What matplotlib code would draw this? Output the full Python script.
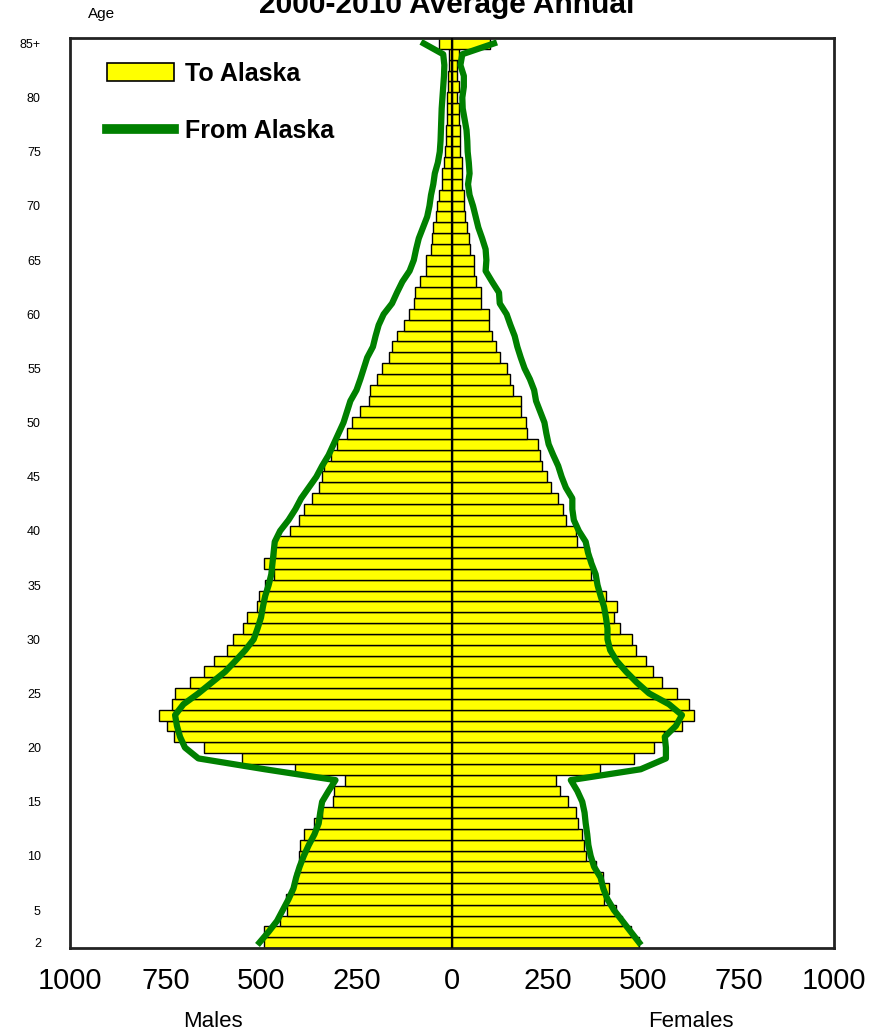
import numpy as np
import matplotlib.pyplot as plt
from matplotlib.patches import Patch
from matplotlib.lines import Line2D

# single years of age, 2 .. 85+
ages = np.arange(2, 86)

# To Alaska (bars), ages 2..85+
to_male = [493, 491, 450, 432, 434, 415, 410, 401, 401, 397,
           388, 362, 340, 311, 310, 279, 410, 550, 650, 729,
           747, 766, 733, 725, 687, 650, 623, 588, 572, 546,
           537, 511, 504, 489, 467, 493, 463, 463, 423, 401,
           388, 367, 349, 340, 336, 318, 301, 275, 262, 240,
           218, 214, 196, 183, 166, 157, 144, 126, 113, 100,
           96, 83, 69, 69, 56, 52, 49, 43, 39, 35,
           26, 26, 21, 19, 17, 15, 14, 12, 12, 10,
           10, 8, 8, 35]
to_female = [490, 468, 446, 429, 398, 411, 394, 376, 350, 346,
             341, 331, 325, 303, 284, 273, 387, 477, 529, 555,
             603, 634, 621, 588, 551, 525, 507, 481, 472, 440,
             424, 433, 402, 380, 363, 367, 359, 328, 324, 298,
             291, 277, 260, 249, 236, 230, 225, 197, 195, 181,
             181, 160, 153, 145, 125, 114, 106, 97, 97, 75,
             75, 62, 57, 57, 48, 44, 40, 35, 31, 31,
             27, 27, 27, 22, 22, 22, 18, 18, 14, 18,
             14, 14, 18, 100]

# From Alaska (line), ages 2..85+
from_male = [504, 480, 458, 443, 428, 415, 408, 399, 388, 375,
             360, 349, 345, 340, 323, 305, 490, 664, 699, 712,
             720, 725, 703, 664, 629, 594, 567, 541, 519, 509,
             500, 495, 489, 480, 473, 470, 467, 464, 450, 428,
             410, 395, 375, 355, 340, 323, 310, 297, 284, 275,
             266, 250, 240, 231, 222, 207, 200, 192, 179, 157,
             144, 130, 111, 100, 94, 87, 76, 65, 59, 55,
             49, 45, 37, 32, 30, 29, 28, 27, 25, 23,
             21, 20, 23, 74]
from_female = [490, 468, 446, 424, 407, 396, 389, 372, 363, 357,
               354, 350, 347, 341, 328, 311, 494, 560, 560, 557,
               586, 602, 568, 516, 484, 456, 431, 414, 407, 407,
               403, 398, 389, 381, 376, 365, 356, 350, 332, 319,
               315, 315, 298, 287, 278, 265, 253, 247, 242, 231,
               220, 215, 204, 190, 180, 171, 164, 153, 143, 125,
               123, 105, 88, 90, 88, 79, 69, 62, 55, 46,
               42, 46, 44, 41, 40, 38, 33, 28, 27, 31,
               31, 22, 27, 110]

xticks = [-1000, -750, -500, -250, 0, 250, 500, 750, 1000]
xticklabels = ["1000", "750", "500", "250", "0", "250", "500", "750", "1000"]
yticks = [85, 80, 75, 70, 65, 60, 55, 50, 45, 40, 35, 30, 25, 20, 15, 10, 5, 2]
yticklabels = ["85+", "80", "75", "70", "65", "60", "55", "50", "45",
               "40", "35", "30", "25", "20", "15", "10", "5", "2"]

plt.rcParams['font.family'] = ['Liberation Sans', 'DejaVu Sans']

yellow = "#ffff00"
green = "#008000"

fig = plt.figure(figsize=(8.71, 10.34), dpi=100)
ax = fig.add_axes([70/871, 86/1034, 764/871, 910/1034])

ax.barh(ages, -np.array(to_male), height=1.0, color=yellow,
        edgecolor="black", linewidth=1.0, zorder=2)
ax.barh(ages, to_female, height=1.0, color=yellow,
        edgecolor="black", linewidth=1.0, zorder=2)
ax.axvline(0, color="black", lw=1.6, zorder=3)
ax.plot(-np.array(from_male), ages, color=green, lw=4.5,
        solid_joinstyle="round", zorder=4)
ax.plot(from_female, ages, color=green, lw=4.5,
        solid_joinstyle="round", zorder=4)

ax.set_xlim(-1000, 1000)
ax.set_ylim(1.5, 85.5)
ax.set_xticks(xticks)
ax.set_xticklabels(xticklabels)
ax.set_yticks(yticks)
ax.set_yticklabels(yticklabels)
ax.tick_params(axis="x", length=0, labelsize=21, pad=14)
ax.tick_params(axis="y", length=0, labelsize=9, pad=21)
for s in ax.spines.values():
    s.set_linewidth(2)
    s.set_color("#222222")

handles = [Patch(facecolor=yellow, edgecolor="black", linewidth=1.2),
           Line2D([], [], color=green, lw=7)]
ax.legend(handles, ["To Alaska", "From Alaska"], loc="upper left",
          bbox_to_anchor=(0.048, 0.974), frameon=False,
          prop={"weight": "bold", "size": 18},
          handlelength=2.7, handleheight=0.72, handletextpad=0.45,
          labelspacing=1.32, borderpad=0, borderaxespad=0)

ax.text(-625, -0.081, "Males", transform=ax.get_xaxis_transform(),
        ha="center", va="center", fontsize=16)
ax.text(625, -0.081, "Females", transform=ax.get_xaxis_transform(),
        ha="center", va="center", fontsize=16)

# title is clipped by the top edge in the original image
fig.text(447/871, 1 - 13/1034, "2000-2010 Average Annual", ha="center",
         va="baseline", fontsize=21.5, fontweight="bold")
fig.text(88/871, 1 - 18/1034, "Age", ha="left", va="baseline", fontsize=11)

fig.savefig("out.png", dpi=100)
